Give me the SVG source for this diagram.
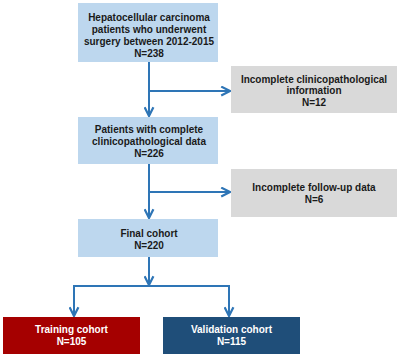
<svg xmlns="http://www.w3.org/2000/svg" width="402" height="357" viewBox="0 0 402 357">
<style>
text{font-family:"Liberation Sans",Arial,sans-serif;font-weight:bold;font-size:10px;text-anchor:middle;fill:#1a1a1a}
.w{fill:#ffffff}
.lb{fill:#bdd7ee}
.gr{fill:#d9d9d9}
.rd{fill:#a50000}
.db{fill:#1f4e79}
.c{fill:none;stroke:#2e75b6;stroke-width:2}
</style>
<defs>
<marker id="ah" viewBox="0 0 10 10" refX="9" refY="5" markerWidth="5.5" markerHeight="5.5" orient="auto" markerUnits="strokeWidth">
<polyline points="1,1 9,5 1,9" fill="none" stroke="#2e75b6" stroke-width="2"/>
</marker>
</defs>
<g id="connectors">
<path class="c" d="M149,62 V116" marker-end="url(#ah)"/>
<path class="c" d="M149,91 H230" marker-end="url(#ah)"/>
<path class="c" d="M149,164 V218" marker-end="url(#ah)"/>
<path class="c" d="M149,192 H230" marker-end="url(#ah)"/>
<path class="c" d="M149,257 V285" marker-end="url(#ah)"/>
<path class="c" d="M73,286 H229 V316" marker-end="url(#ah)"/>
<path class="c" d="M74,286 V316" marker-end="url(#ah)"/>
</g>
<g id="n1">
<rect class="lb" x="78" y="3" width="140" height="59"/>
<text x="149" y="21">Hepatocellular carcinoma</text>
<text x="149" y="33">patients who underwent</text>
<text x="149" y="45">surgery between 2012-2015</text>
<text x="149" y="57">N=238</text>
</g>
<g id="n2">
<rect class="gr" x="231" y="66" width="166" height="47"/>
<text x="314" y="82.5">Incomplete clinicopathological</text>
<text x="314" y="94">information</text>
<text x="314" y="105.5">N=12</text>
</g>
<g id="n3">
<rect class="lb" x="78" y="117" width="140" height="47"/>
<text x="149" y="133">Patients with complete</text>
<text x="149" y="145">clinicopathological data</text>
<text x="149" y="157">N=226</text>
</g>
<g id="n4">
<rect class="gr" x="231" y="169" width="166" height="48"/>
<text x="314" y="191">Incomplete follow-up data</text>
<text x="314" y="203">N=6</text>
</g>
<g id="n5">
<rect class="lb" x="78" y="219" width="140" height="38"/>
<text x="149" y="237">Final cohort</text>
<text x="149" y="249">N=220</text>
</g>
<g id="n6">
<rect class="rd" x="3" y="317" width="137" height="37"/>
<text class="w" x="71.5" y="333">Training cohort</text>
<text class="w" x="71.5" y="345">N=105</text>
</g>
<g id="n7">
<rect class="db" x="163" y="317" width="137" height="37"/>
<text class="w" x="231.5" y="333">Validation cohort</text>
<text class="w" x="231.5" y="345">N=115</text>
</g>
</svg>
